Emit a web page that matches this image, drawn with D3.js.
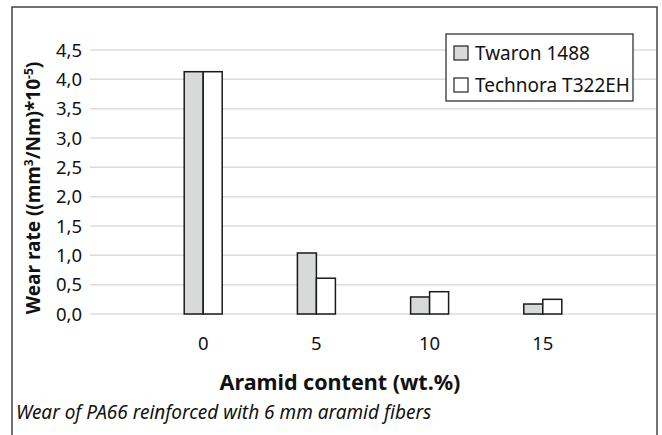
<!DOCTYPE html>
<html>
<head>
<meta charset="utf-8">
<script src="https://cdn.jsdelivr.net/npm/d3@7"></script>
<style>
  body { margin: 0; background: #fff; }
  text { font-family: "Noto Sans", "Open Sans", sans-serif; fill: #111; }
</style>
</head>
<body>
<div id="chart"></div>
<script>
// chart data
const categories = ["0", "5", "10", "15"];
const seriesNames = ["Twaron 1488", "Technora T322EH"];
const twaron = [4.13, 1.04, 0.29, 0.17];
const technora = [4.13, 0.61, 0.38, 0.25];
const yTicks = [0, 0.5, 1, 1.5, 2, 2.5, 3, 3.5, 4, 4.5];

const width = 662, height = 435;
const fills = ["#d7dad9", "#ffffff"];

const svg = d3.select("#chart").append("svg")
  .attr("width", width)
  .attr("height", height);

// outer frame (no bottom edge visible)
svg.append("path")
  .attr("d", `M12,${height} L12,7 L657,7 L657,${height}`)
  .attr("fill", "none")
  .attr("stroke", "#444")
  .attr("stroke-width", 1.5);

const plot = { left: 90, right: 656, top: 50, bottom: 314 };

const x = d3.scalePoint()
  .domain(categories)
  .range([plot.left, plot.right])
  .padding(1);

const y = d3.scaleLinear()
  .domain([0, 4.5])
  .range([plot.bottom, plot.top]);

const fmt = d => d3.format(".1f")(d).replace(".", ",");

// gridlines
svg.append("g")
  .selectAll("line")
  .data(yTicks)
  .enter()
  .append("line")
  .attr("x1", plot.left)
  .attr("x2", plot.right)
  .attr("y1", d => y(d))
  .attr("y2", d => y(d))
  .attr("stroke", "#dcdcdc")
  .attr("stroke-width", 1.5);

// y tick labels
svg.append("g")
  .selectAll("text")
  .data(yTicks)
  .enter()
  .append("text")
  .attr("x", 82)
  .attr("y", d => y(d))
  .attr("dy", "0.36em")
  .attr("text-anchor", "end")
  .style("font-size", "18.5px")
  .text(fmt);

// bars
const barW = 19;
const series = [twaron, technora];
series.forEach((vals, s) => {
  svg.append("g")
    .selectAll("rect")
    .data(vals)
    .enter()
    .append("rect")
    .attr("x", (d, i) => x(categories[i]) - barW + s * barW)
    .attr("y", d => y(d))
    .attr("width", barW)
    .attr("height", d => y(0) - y(d))
    .attr("fill", fills[s])
    .attr("stroke", "#1a1a1a")
    .attr("stroke-width", 1.5);
});

// x tick labels
svg.append("g")
  .selectAll("text")
  .data(categories)
  .enter()
  .append("text")
  .attr("x", d => x(d))
  .attr("y", 350)
  .attr("text-anchor", "middle")
  .style("font-size", "18.5px")
  .text(d => d);

// axis titles
svg.append("text")
  .attr("x", 340)
  .attr("y", 390)
  .attr("text-anchor", "middle")
  .style("font-size", "21.5px")
  .style("font-weight", "bold")
  .text("Aramid content (wt.%)");

const yl = svg.append("text")
  .attr("transform", "translate(40,188) rotate(-90)")
  .attr("text-anchor", "middle")
  .style("font-size", "19px")
  .style("font-weight", "bold");
yl.append("tspan").text("Wear rate ((mm");
yl.append("tspan").attr("dy", -7).style("font-size", "12px").text("3");
yl.append("tspan").attr("dy", 7).text("/Nm)*10");
yl.append("tspan").attr("dy", -7).style("font-size", "12px").text("-5");
yl.append("tspan").attr("dy", 7).text(")");

// caption
svg.append("text")
  .attr("x", 16)
  .attr("y", 419)
  .style("font-size", "19px")
  .style("font-style", "italic")
  .text("Wear of PA66 reinforced with 6 mm aramid fibers");

// legend
const legend = svg.append("g");
legend.append("rect")
  .attr("x", 446).attr("y", 34)
  .attr("width", 187).attr("height", 67)
  .attr("fill", "#fff")
  .attr("stroke", "#222")
  .attr("stroke-width", 1.2);
seriesNames.forEach((name, i) => {
  const cy = 53 + i * 32;
  legend.append("rect")
    .attr("x", 454).attr("y", cy - 7)
    .attr("width", 14).attr("height", 14)
    .attr("fill", fills[i])
    .attr("stroke", "#222")
    .attr("stroke-width", 1.2);
  legend.append("text")
    .attr("x", 475).attr("y", cy)
    .attr("dy", "0.36em")
    .style("font-size", "19px")
    .text(name);
});
</script>
</body>
</html>
